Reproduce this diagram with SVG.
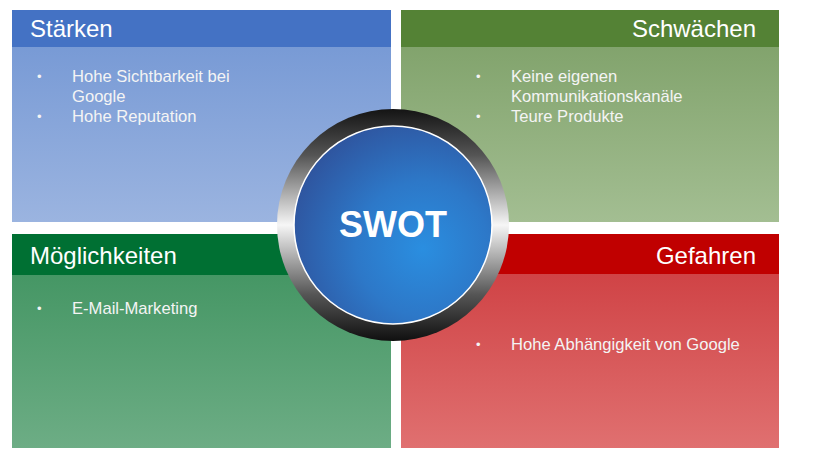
<svg xmlns="http://www.w3.org/2000/svg" width="815" height="468" viewBox="0 0 815 468">
<defs>
<linearGradient id="gS" x1="0" y1="0" x2="0" y2="1"><stop offset="0" stop-color="#7195d3"/><stop offset="1" stop-color="#9bb4e0"/></linearGradient>
<linearGradient id="gW" x1="0" y1="0" x2="0" y2="1"><stop offset="0" stop-color="#7b9e65"/><stop offset="1" stop-color="#a3be92"/></linearGradient>
<linearGradient id="gO" x1="0" y1="0" x2="0" y2="1"><stop offset="0" stop-color="#3c915d"/><stop offset="1" stop-color="#6dad85"/></linearGradient>
<linearGradient id="gT" x1="0" y1="0" x2="0" y2="1"><stop offset="0" stop-color="#cc393c"/><stop offset="1" stop-color="#e07070"/></linearGradient>
<linearGradient id="ring" x1="0" y1="0" x2="0" y2="1"><stop offset="0" stop-color="#141414"/><stop offset="0.2" stop-color="#555"/><stop offset="0.5" stop-color="#f6f6f6"/><stop offset="0.8" stop-color="#555"/><stop offset="1" stop-color="#101010"/></linearGradient>
<radialGradient id="core" cx="0.65" cy="0.62" r="0.75"><stop offset="0" stop-color="#2a8ee0"/><stop offset="0.45" stop-color="#2d78c8"/><stop offset="1" stop-color="#2f4f98"/></radialGradient>
<style>
.hd{font-family:"Liberation Sans",Arial,sans-serif;font-size:24px;fill:#fff}
.tx{font-family:"Liberation Sans",Arial,sans-serif;font-size:16.6px;fill:#f4f4f4}
.bl{font-family:"Liberation Sans",Arial,sans-serif;font-size:13px;fill:#f4f4f4}
</style>
</defs>
<rect width="815" height="468" fill="#fff"/>
<g id="staerken">
<rect x="12" y="10" width="379" height="212" fill="url(#gS)"/>
<rect x="12" y="10" width="379" height="37" fill="#4472c4"/>
<text class="hd" x="30" y="37">Stärken</text>
<text class="bl" x="37" y="81">•</text>
<text class="tx" x="72" y="82">Hohe Sichtbarkeit bei</text>
<text class="tx" x="72" y="102">Google</text>
<text class="bl" x="37" y="121">•</text>
<text class="tx" x="72" y="122">Hohe Reputation</text>
</g>
<g id="schwaechen">
<rect x="401" y="10" width="378" height="212" fill="url(#gW)"/>
<rect x="401" y="10" width="378" height="37" fill="#548235"/>
<text class="hd" x="756" y="37" text-anchor="end">Schwächen</text>
<text class="bl" x="476" y="81">•</text>
<text class="tx" x="511" y="82">Keine eigenen</text>
<text class="tx" x="511" y="102">Kommunikationskanäle</text>
<text class="bl" x="476" y="121">•</text>
<text class="tx" x="511" y="122">Teure Produkte</text>
</g>
<g id="moeglichkeiten">
<rect x="12" y="234" width="379" height="214" fill="url(#gO)"/>
<rect x="12" y="234" width="379" height="41" fill="#007033"/>
<text class="hd" x="30" y="264">Möglichkeiten</text>
<text class="bl" x="37" y="313">•</text>
<text class="tx" x="72" y="314">E-Mail-Marketing</text>
</g>
<g id="gefahren">
<rect x="401" y="234" width="378" height="214" fill="url(#gT)"/>
<rect x="401" y="234" width="378" height="40" fill="#c00000"/>
<text class="hd" x="756" y="264" text-anchor="end">Gefahren</text>
<text class="bl" x="476" y="349">•</text>
<text class="tx" x="511" y="350">Hohe Abhängigkeit von Google</text>
</g>
<g id="swot">
<circle cx="393" cy="225" r="116" fill="url(#ring)"/>
<circle cx="393" cy="225" r="99" fill="url(#core)" stroke="#fff" stroke-width="1.5"/>
<text x="393" y="237" text-anchor="middle" font-family="Liberation Sans,Arial,sans-serif" font-weight="bold" font-size="36" fill="#fff">SWOT</text>
</g>
</svg>
